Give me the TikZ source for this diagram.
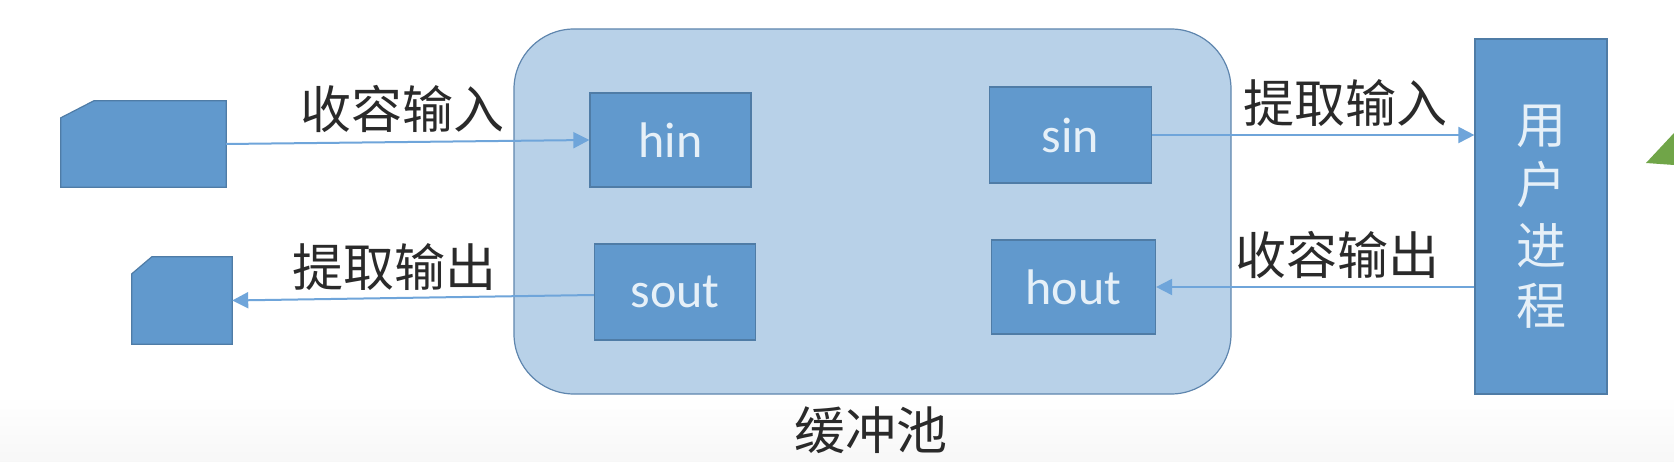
\documentclass[tikz,border=0pt]{standalone}
\usepackage{fontspec}
\setmainfont{Carlito}
\newfontfamily\cjk{Noto Sans CJK SC}
\usetikzlibrary{arrows.meta}
\definecolor{boxfill}{HTML}{6199CD}
\definecolor{boxline}{HTML}{4F7CA6}
\definecolor{poolfill}{HTML}{B8D1E8}
\definecolor{poolline}{HTML}{5F86AE}
\definecolor{wire}{HTML}{6FA5DA}
\definecolor{inktext}{HTML}{2A2A2A}
\definecolor{boxtext}{HTML}{E6F0F8}
\definecolor{leaf}{HTML}{70A548}
\tikzset{
  x=1pt,y=-1pt,
  pool/.style={draw=poolline,fill=poolfill,line width=1.2pt,rounded corners=60pt,minimum width=717pt,minimum height=365pt,inner sep=0pt},
  buf/.style={draw=boxline,fill=boxfill,line width=1.2pt,minimum width=#1,minimum height=94pt,inner sep=0pt,text=boxtext,font=\fontsize{50}{54}\selectfont},
  proc/.style={draw=boxline,fill=boxfill,line width=1.2pt,minimum width=132pt,minimum height=355pt,inner sep=0pt,text=boxtext,align=center,font=\cjk\fontsize{50}{60.5}\selectfont},
  cardbase/.style={inner sep=0pt},
  cardface/.style={draw=boxline,fill=boxfill,line width=1.2pt},
  lab/.style={text=inktext,inner sep=0pt,font=\cjk\fontsize{51}{54}\selectfont},
  wireline/.style={draw=wire,line width=2pt,-{Triangle[length=16pt,width=16pt]}},
}
\begin{document}
\begin{tikzpicture}
\useasboundingbox (0,0) rectangle (1674,462);
\fill[white] (0,0) rectangle (1674,462);
\shade[top color=white,bottom color=black!3,draw=none] (0,395) rectangle (1674,462);
\fill[leaf] (1646,163) -- (1674,133) -- (1674,165) -- cycle;
\node[pool] (pool) at (872.5,211.5) {};
\node[buf=161pt] (hin) at (670.5,140) {hin};
\node[buf=162pt,minimum height=96pt] (sin) at (1070.5,135) {sin};
\node[buf=161pt,minimum height=96pt] (sout) at (675,292) {sout};
\node[buf=164pt] (hout) at (1073.5,287) {hout};
\node[proc] (user) at (1541,216.5) {用\\户\\进\\程};
\node[cardbase,minimum width=165pt,minimum height=86pt] (src) at (143.5,144) {};
\node[cardbase,minimum width=100pt,minimum height=87pt] (dst) at (182,300.5) {};
\draw[cardface] ([yshift=-17pt]src.north west) -- ([xshift=33pt]src.north west) -- (src.north east) -- (src.south east) -- (src.south west) -- cycle;
\draw[cardface] ([yshift=-17pt]dst.north west) -- ([xshift=20pt]dst.north west) -- (dst.north east) -- (dst.south east) -- (dst.south west) -- cycle;
\draw[wireline] (src.east) -- (hin.west);
\draw[wireline] ([yshift=-3pt]sout.west) -- (dst.east);
\draw[wireline] (sin.east) -- (sin.east -| user.west);
\draw[wireline] (user.west |- hout.east) -- (hout.east);
\node[lab] (l1) at (402,108.5) {收容输入};
\node[lab] (l2) at (394.5,267) {提取输出};
\node[lab] (l3) at (1345,103) {提取输入};
\node[lab] (l4) at (1337,255) {收容输出};
\node[lab] (l5) at (871,430) {缓冲池};
\end{tikzpicture}
\end{document}
